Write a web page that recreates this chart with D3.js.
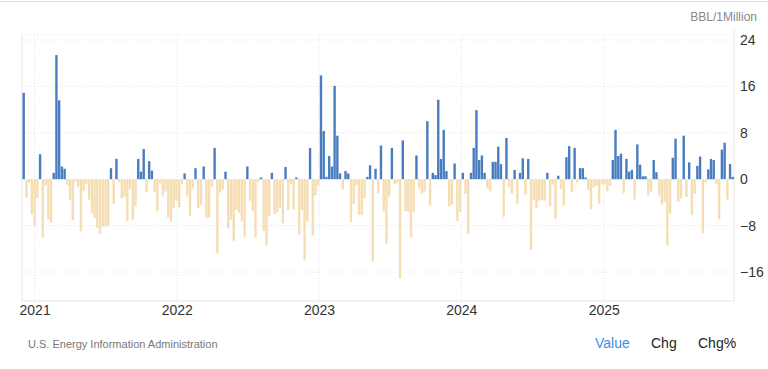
<!DOCTYPE html>
<html>
<head>
<meta charset="utf-8">
<script src="https://cdn.jsdelivr.net/npm/d3@7"></script>
<style>
  body { margin: 0; background: #fff; font-family: Arial, "Liberation Sans", sans-serif; }
</style>
</head>
<body>
<div class="canvas"></div>
<script>
/* ----------- DATA ----------- */
// first weekly observation, one bar per week after it
const startWeek = new Date(2020, 11, 4);

// weekly change, BBL/1Million
const values = [
  14.9, -3.2, -0.6, -6.1, -8.1, -3.3, 4.3, -10.0, -1.1, -6.9,
  -7.5, 1.1, 21.4, 13.6, 2.2, 1.8, -1.0, -3.6, -7.1, -0.4,
  -1.4, -9.0, -2.0, -0.8, -3.5, -5.8, -6.7, -8.4, -9.4, -8.2,
  -8.2, -8.0, 1.9, -4.2, 3.5, -0.5, -3.3, -3.0, -7.2, -1.7,
  -7.0, -4.7, 3.5, 1.3, 5.2, -2.2, 3.1, 1.5, -2.2, -5.5,
  -0.7, -3.0, -2.1, -6.6, -7.3, -5.0, -3.7, -4.9, -0.9, 1.0,
  -3.0, -6.3, -1.6, 1.9, -5.0, -4.4, 2.2, -6.7, -6.6, -1.4,
  5.4, -12.8, -2.3, -1.8, 1.3, -8.5, -7.0, -10.6, -5.3, -5.8,
  -7.2, -9.9, 2.2, -3.7, -5.5, -10.1, -0.5, 0.3, -8.9, -11.4,
  -6.4, 1.1, -6.0, -5.7, -4.9, -7.6, 2.1, -5.3, -0.9, -5.2,
  0.3, -9.5, -5.3, -14.0, -7.3, 5.4, -9.7, -2.8, -1.1, 17.9,
  8.3, 0.4, 4.0, 2.2, 16.1, 7.5, 1.0, -1.7, 1.4, 1.0,
  -7.4, -4.2, -1.1, -6.2, -6.1, -3.3, 0.4, 2.4, -14.2, 1.8,
  -2.4, 5.8, -5.6, -11.1, -3.0, 5.4, -0.8, -0.6, -17.1, 6.7,
  -5.5, -5.6, -10.0, -5.6, 4.1, -1.6, -2.5, -2.1, 10.0, -4.6,
  1.1, 0.7, 13.7, 3.5, 8.5, 1.4, -4.7, -4.4, 2.7, -7.2,
  -5.6, 1.1, -2.5, -9.4, 1.1, 5.4, 11.9, 3.3, 4.1, 1.1,
  -1.6, -2.1, 3.0, 3.0, 5.6, 2.6, -6.5, 7.1, -1.4, -2.5,
  1.6, -4.2, 1.1, 3.6, -2.7, 3.5, -12.2, -3.6, -5.0, -3.7,
  -3.6, -3.7, 1.1, -4.7, -0.9, -6.9, 0.6, -1.7, -4.6, 3.8,
  5.7, -2.2, 5.4, -0.6, 1.9, 1.9, 0.3, -1.9, -5.2, -1.4,
  -1.1, -4.2, -0.9, -0.9, -2.1, -1.1, 3.3, 8.5, 4.0, 4.4,
  -2.4, 3.5, 1.3, 1.6, -3.5, 6.0, 2.5, 0.5, 0.5, -2.8,
  -2.1, 3.3, 1.2, -2.8, -4.4, -3.9, -11.5, -5.9, 3.7, 7.0,
  -3.9, -3.3, 7.5, -3.1, 2.9, -6.1, -2.5, 2.3, 3.9, -9.3,
  -0.6, 1.7, 3.5, 3.3, -0.9, -6.9, 5.1, 6.3, -3.5, 2.6,
  0.4
];

const yTicks = [24, 16, 8, 0, -8, -16];
const yearTicks = [2021, 2022, 2023, 2024, 2025];
const legendItems = ['Value', 'Chg', 'Chg%'];

const data = values.map((v, i) => ({ date: d3.timeWeek.offset(startWeek, i), value: v }));

/* ----------- CONTAINER & GRAPH ----------- */
const width = 768;
const height = 369;

const svg = d3.select('.canvas')
    .append('svg')
    .attr('width', width)
    .attr('height', height);

// plot frame
const plot = { left: 22, right: 734, top: 35, bottom: 301 };

// page top border
svg.append('line')
    .attr('x1', 0).attr('x2', width)
    .attr('y1', 1.5).attr('y2', 1.5)
    .attr('stroke', '#e0e0e0');

/* ----------- SCALES ------------- */
const x = d3.scaleTime()
    .domain([data[0].date, data[data.length - 1].date])
    .range([23.7, 732.8]);

const y = d3.scaleLinear()
    .domain([-16, 24])
    .range([272, 40]);

const barW = (x(data[1].date) - x(data[0].date)) * 0.88;

/* ----------- GRID ------------- */
const grid = svg.append('g');

grid.selectAll('line.h')
    .data(yTicks)
    .enter()
    .append('line')
    .attr('x1', plot.left).attr('x2', plot.right)
    .attr('y1', d => y(d)).attr('y2', d => y(d))
    .attr('stroke', '#e3e3e3')
    .attr('stroke-dasharray', '1,2');

grid.append('line')
    .attr('x1', plot.left).attr('x2', plot.right)
    .attr('y1', plot.top).attr('y2', plot.top)
    .attr('stroke', '#ececec')
    .attr('stroke-dasharray', '1,2');

grid.selectAll('line.v')
    .data(yearTicks)
    .enter()
    .append('line')
    .attr('x1', d => x(new Date(d, 0, 1))).attr('x2', d => x(new Date(d, 0, 1)))
    .attr('y1', plot.top).attr('y2', plot.bottom)
    .attr('stroke', '#e3e3e3')
    .attr('stroke-dasharray', '1,2');

// frame lines: left, bottom, right axis
grid.append('line')
    .attr('x1', plot.left).attr('x2', plot.left)
    .attr('y1', plot.top).attr('y2', plot.bottom)
    .attr('stroke', '#e6e6e6');
grid.append('line')
    .attr('x1', plot.left).attr('x2', plot.right)
    .attr('y1', plot.bottom).attr('y2', plot.bottom)
    .attr('stroke', '#e6e6e6');
grid.append('line')
    .attr('x1', plot.right).attr('x2', plot.right)
    .attr('y1', plot.top - 5).attr('y2', plot.bottom)
    .attr('stroke', '#e6e6e6');

/* ----------- BARS ------------- */
svg.append('g')
    .selectAll('rect')
    .data(data)
    .enter()
    .append('rect')
    .attr('x', d => x(d.date) - barW / 2)
    .attr('width', barW)
    .attr('y', d => y(Math.max(0, d.value)))
    .attr('height', d => Math.abs(y(d.value) - y(0)))
    .attr('fill', d => d.value >= 0 ? '#4a7dc0' : '#f5deb3');

/* ----------- AXES ------------- */
const yAxis = d3.axisRight(y)
    .tickValues(yTicks)
    .tickSize(0)
    .tickPadding(6);

const yAxisGroup = svg.append('g')
    .attr('transform', `translate(${plot.right},0)`)
    .call(yAxis);
yAxisGroup.select('.domain').remove();
yAxisGroup.selectAll('text')
    .attr('font-size', 14)
    .attr('font-family', 'Arial, "Liberation Sans", sans-serif')
    .attr('fill', '#333');

const xAxis = d3.axisBottom(x)
    .tickValues(yearTicks.map(d => new Date(d, 0, 1)))
    .tickFormat(d3.timeFormat('%Y'))
    .tickSize(0)
    .tickPadding(4);

const xAxisGroup = svg.append('g')
    .attr('transform', `translate(0,${plot.bottom})`)
    .call(xAxis);
xAxisGroup.select('.domain').remove();
xAxisGroup.selectAll('text')
    .attr('font-size', 14)
    .attr('font-family', 'Arial, "Liberation Sans", sans-serif')
    .attr('fill', '#333');

/* ----------- LABELS ------------- */
svg.append('text')
    .attr('x', 757).attr('y', 21)
    .attr('text-anchor', 'end')
    .attr('font-size', 12)
    .attr('fill', '#888')
    .text('BBL/1Million');

svg.append('text')
    .attr('x', 28).attr('y', 348)
    .attr('font-size', 11)
    .attr('fill', '#777')
    .text('U.S. Energy Information Administration');

const legendX = [595, 651, 698];
svg.append('g')
    .selectAll('text')
    .data(legendItems)
    .enter()
    .append('text')
    .attr('x', (d, i) => legendX[i])
    .attr('y', 348)
    .attr('font-size', 14)
    .attr('fill', (d, i) => i === 0 ? '#3d8fe0' : '#222')
    .text(d => d);
</script>
</body>
</html>
